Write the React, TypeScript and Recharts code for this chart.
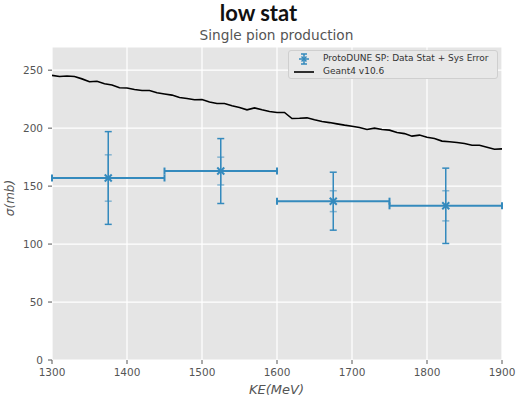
import React from 'react';
import {
  ComposedChart,
  Line,
  Scatter,
  ErrorBar,
  XAxis,
  YAxis,
  CartesianGrid,
} from 'recharts';

// Geant4 v10.6 prediction, sampled every 10 MeV
const g4Energy = [
  1300, 1310, 1320, 1330, 1340, 1350, 1360, 1370, 1380, 1390,
  1400, 1410, 1420, 1430, 1440, 1450, 1460, 1470, 1480, 1490,
  1500, 1510, 1520, 1530, 1540, 1550, 1560, 1570, 1580, 1590,
  1600, 1610, 1620, 1630, 1640, 1650, 1660, 1670, 1680, 1690,
  1700, 1710, 1720, 1730, 1740, 1750, 1760, 1770, 1780, 1790,
  1800, 1810, 1820, 1830, 1840, 1850, 1860, 1870, 1880, 1890,
  1900,
];
const g4Sigma = [
  245.5, 244.6, 245.0, 244.5, 242.5, 240.0, 240.5, 238.3, 237.2, 234.8,
  234.6, 233.4, 232.5, 232.5, 230.5, 229.5, 228.5, 226.4, 225.6, 224.5,
  224.7, 222.5, 221.3, 221.3, 219.3, 217.8, 215.8, 217.5, 215.8, 214.4,
  213.5, 213.5, 208.3, 208.5, 208.9, 207.2, 205.7, 204.8, 203.7, 202.6,
  201.7, 200.5, 198.8, 200.0, 198.8, 198.3, 196.2, 195.3, 193.1, 194.0,
  192.2, 191.0, 188.8, 188.2, 187.6, 186.7, 185.3, 185.3, 183.6, 181.8,
  182.1,
];

// ProtoDUNE SP measurement
const binCenters = [1375, 1525, 1675, 1825];
const binHalfWidth = [75, 75, 75, 75];
const dataSigma = [157, 163, 137, 133];
const statErr = [20, 12, 9, 13];
const totalErr = [40, 28, 25, 32.5];

const xTicks = [1300, 1400, 1500, 1600, 1700, 1800, 1900];
const yTicks = [0, 50, 100, 150, 200, 250];

const g4Data = g4Energy.map((ke, i) => ({ ke, sigma: g4Sigma[i] }));
const pdspData = binCenters.map((ke, i) => ({
  ke,
  sigma: dataSigma[i],
  xErr: binHalfWidth[i],
  stat: statErr[i],
  total: totalErr[i],
}));

const BLUE = '#348ABD';
const TICK = { fill: '#555', fontSize: 10.5, fontFamily: 'DejaVu Sans' };

const XMarker = (props: any) => {
  const { cx, cy } = props;
  const r = 3.5;
  return (
    <g stroke={BLUE} strokeWidth={2}>
      <line x1={cx - r} y1={cy - r} x2={cx + r} y2={cy + r} />
      <line x1={cx - r} y1={cy + r} x2={cx + r} y2={cy - r} />
    </g>
  );
};

const LegendBox = () => (
  <div
    style={{
      position: 'absolute',
      left: 288,
      top: 50,
      width: 210,
      height: 29,
      boxSizing: 'border-box',
      background: '#E8E8E8',
      border: '1px solid #CFCFCF',
      borderRadius: 3,
      padding: '1px 0 0 5px',
      fontFamily: 'DejaVu Sans',
      fontSize: 9,
      color: '#333',
      lineHeight: '13px',
      whiteSpace: 'nowrap',
    }}
  >
    <div style={{ display: 'flex', alignItems: 'center' }}>
      <svg width={20} height={12} style={{ marginRight: 9 }}>
        <g stroke={BLUE} strokeWidth={1.5}>
          <line x1={10} y1={1} x2={10} y2={11} />
          <line x1={7} y1={1} x2={13} y2={1} />
          <line x1={7} y1={11} x2={13} y2={11} />
          <line x1={5} y1={6} x2={15} y2={6} />
          <line x1={7.5} y1={3.5} x2={12.5} y2={8.5} />
          <line x1={7.5} y1={8.5} x2={12.5} y2={3.5} />
        </g>
      </svg>
      ProtoDUNE SP: Data Stat + Sys Error
    </div>
    <div style={{ display: 'flex', alignItems: 'center' }}>
      <svg width={20} height={12} style={{ marginRight: 9 }}>
        <line x1={0} y1={6} x2={20} y2={6} stroke="#000" strokeWidth={1.6} />
      </svg>
      Geant4 v10.6
    </div>
  </div>
);

export default function App() {
  return (
    <div
      style={{
        position: 'absolute',
        left: 0,
        top: 0,
        width: 517,
        height: 396,
        background: '#fff',
      }}
    >
      <ComposedChart
        width={517}
        height={396}
        margin={{ top: 47, right: 15, bottom: 0, left: 12 }}
      >
        <CartesianGrid fill="#E5E5E5" stroke="#fff" strokeWidth={1.2} />
        <XAxis
          type="number"
          dataKey="ke"
          domain={[1300, 1900]}
          ticks={xTicks}
          allowDataOverflow
          height={36}
          axisLine={false}
          tickSize={4}
          tickMargin={5}
          tickLine={{ stroke: '#555' }}
          tick={TICK}
        />
        <YAxis
          type="number"
          dataKey="sigma"
          domain={[0, 270]}
          ticks={yTicks}
          allowDataOverflow
          width={40}
          axisLine={false}
          tickSize={4}
          tickMargin={5}
          tickLine={{ stroke: '#555' }}
          tick={TICK}
        />
        <Line
          data={g4Data}
          dataKey="sigma"
          stroke="#000"
          strokeWidth={1.6}
          dot={false}
          isAnimationActive={false}
        />
        <Scatter
          data={pdspData}
          dataKey="sigma"
          shape={<XMarker />}
          isAnimationActive={false}
        >
          <ErrorBar dataKey="xErr" direction="x" width={3.5} stroke={BLUE} strokeWidth={2} />
          <ErrorBar dataKey="total" direction="y" width={3.5} stroke={BLUE} strokeWidth={1.5} />
          <ErrorBar dataKey="stat" direction="y" width={3.5} stroke={BLUE} strokeOpacity={0.55} strokeWidth={1.5} />
        </Scatter>
      </ComposedChart>

      <div
        style={{
          position: 'absolute',
          top: 0,
          width: 517,
          lineHeight: '26px',
          textAlign: 'center',
          fontFamily: 'Lato',
          fontWeight: 700,
          fontSize: 22,
          color: '#111',
        }}
      >
        low stat
      </div>
      <div
        style={{
          position: 'absolute',
          top: 26,
          width: 517,
          paddingLeft: 36,
          boxSizing: 'border-box',
          lineHeight: '18px',
          textAlign: 'center',
          fontFamily: 'DejaVu Sans',
          fontSize: 13.7,
          color: '#555',
        }}
      >
        Single pion production
      </div>

      <LegendBox />

      <div
        style={{
          position: 'absolute',
          top: 382,
          width: 517,
          paddingLeft: 36,
          lineHeight: '16px',
          textAlign: 'center',
          boxSizing: 'border-box',
          fontFamily: 'DejaVu Sans',
          fontStyle: 'italic',
          fontSize: 13,
          color: '#555',
        }}
      >
        KE(MeV)
      </div>
      <div
        style={{
          position: 'absolute',
          left: 10,
          top: 198,
          transform: 'translate(-50%, -50%) rotate(-90deg)',
          fontFamily: 'DejaVu Sans',
          fontStyle: 'italic',
          fontSize: 12,
          color: '#555',
          whiteSpace: 'nowrap',
        }}
      >
        σ(mb)
      </div>
    </div>
  );
}
